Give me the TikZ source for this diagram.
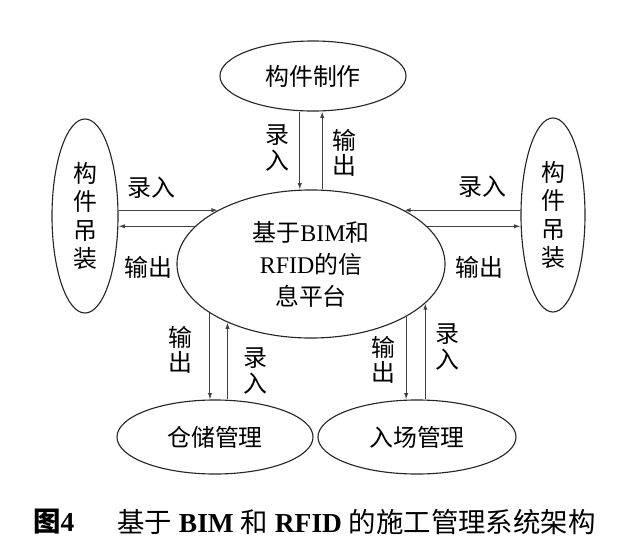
\documentclass[tikz,border=0pt]{standalone}
\usepackage{fontspec}
\setmainfont{Liberation Serif}
\newfontfamily\cjk{Noto Sans CJK SC}
\usetikzlibrary{arrows.meta,shapes.geometric}

\tikzset{
  unit/.style={ellipse,draw=black!85,line width=0.8pt,inner sep=0pt,align=center,
    font=\cjk\fontsize{17}{20}\selectfont},
  flow/.style={draw=black!75,line width=0.7pt,-{Latex[length=4.5pt,width=3pt]}},
  lbl/.style={inner sep=0pt,align=center,font=\cjk\fontsize{17}{18}\selectfont},
}

\begin{document}
\begin{tikzpicture}[x=0.025cm,y=-0.025cm]
\useasboundingbox (0,0) rectangle (640,547);
% units round the platform
\node[unit,minimum width=4.65cm,minimum height=1.75cm] (make) at (313,76) {构件制作};
\node[unit,minimum width=1.65cm,minimum height=4.85cm] (lhoist) at (85,216) {构\\件\\吊\\装};
\node[unit,minimum width=1.6cm,minimum height=4.85cm] (rhoist) at (553,215) {构\\件\\吊\\装};
\node[unit,minimum width=4.9cm,minimum height=1.85cm] (store) at (215,437) {仓储管理};
\node[unit,minimum width=4.95cm,minimum height=1.85cm] (entry) at (417,437) {入场管理};
\node[unit,minimum width=6.7cm,minimum height=3.7cm,font=\fontsize{17}{22.7}\selectfont] (plat) at (311,264)
  {{\cjk 基于}BIM{\cjk 和}\\RFID{\cjk 的信}\\{\cjk 息平台}};
% top pair
\draw[flow] ([xshift=-0.33cm]make.south) -- ([xshift=-0.33cm]make.south |- plat.north);
\draw[flow] ([xshift=0.23cm]make.south |- plat.north) -- ([xshift=0.23cm]make.south);
\node[lbl] (tin) at (277,148) {录\\入};
\node[lbl] (tout) at (344,153) {输\\出};
% side pairs
\draw[flow] (plat.150 -| lhoist.east) -- (plat.150);
\draw[flow] (plat.162) -- (plat.162 -| lhoist.east);
\draw[flow] (plat.30 -| rhoist.west) -- (plat.30);
\draw[flow] (plat.18) -- (plat.18 -| rhoist.west);
\node[lbl] (lin) at (151,188) {录入};
\node[lbl] (lout) at (148,267) {输出};
\node[lbl] (rin) at (482,187) {录入};
\node[lbl] (rout) at (479,267) {输出};
% bottom pairs
\draw[flow] (plat.206) -- (plat.206 |- store.north);
\draw[flow] (plat.215 |- store.north) -- (plat.215);
\draw[flow] (plat.331) -- (plat.331 |- entry.north);
\draw[flow] (plat.341 |- entry.north) -- (plat.341);
\node[lbl] (sout) at (180,350) {输\\出};
\node[lbl] (sin) at (255,371) {录\\入};
\node[lbl] (eout) at (383,360) {输\\出};
\node[lbl] (ein) at (447,347) {录\\入};
% caption
\node[anchor=west,inner sep=0pt,font=\fontsize{19.5}{19.5}\selectfont\bfseries] (figno) at (33,522) {{\cjk 图}4};
\node[anchor=west,inner sep=0pt,font=\fontsize{19.5}{19.5}\selectfont] (cap) at (117,522)
  {{\cjk 基于} \textbf{BIM} {\cjk 和} \textbf{RFID} {\cjk 的施工管理系统架构}};
\end{tikzpicture}
\end{document}
